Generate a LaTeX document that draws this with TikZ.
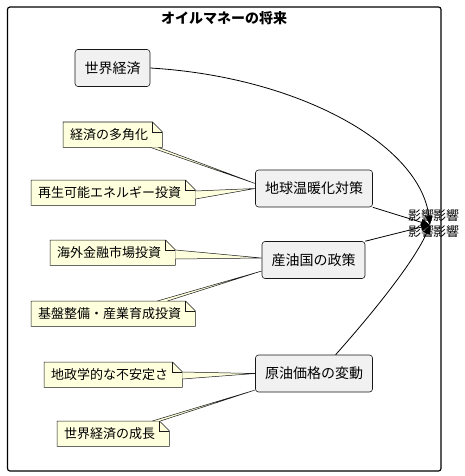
\documentclass[tikz,border=0pt]{standalone}
\usepackage{fontspec}
\setmainfont{Noto Sans CJK JP}
\usetikzlibrary{arrows.meta,calc}
\pgfdeclarelayer{paper}
\pgfdeclarelayer{notelayer}
\pgfsetlayers{paper,notelayer,main}
\definecolor{boxfill}{HTML}{F1F1F1}
\definecolor{notefill}{HTML}{FEFFDD}
\definecolor{edge}{HTML}{181818}
\tikzset{
  factor/.style={draw=edge,fill=boxfill,rounded corners=3pt,line width=.6pt,
    inner xsep=9.5pt,minimum height=37pt,font=\fontsize{14}{16}\selectfont},
  notetext/.style={anchor=north west,inner xsep=7pt,inner ysep=0pt,
    minimum height=25pt,font=\fontsize{13}{15}\selectfont},
  noteline/.style={draw=edge,fill=notefill,line width=.5pt},
  effect/.style={inner sep=0pt,font=\fontsize{13}{15}\selectfont},
}
% note outline with folded corner, behind the text
\newcommand\notebox[1]{%
  \begin{pgfonlayer}{notelayer}
  \draw[noteline] (#1.north west) -- ($(#1.north east)+(-3,0)$)
    -- ($(#1.north east)+(7,10)$) -- ($(#1.south east)+(7,0)$)
    -- (#1.south west) -- cycle;
  \draw[noteline,fill=none] ($(#1.north east)+(-3,0)$) |- ($(#1.north east)+(7,10)$);
  \end{pgfonlayer}}
% thin wedge from a note to its box
\newcommand\notelink[3]{%
  \begin{pgfonlayer}{notelayer}
  \fill[notefill] #1 -- #3 -- #2 -- cycle;
  \draw[edge,line width=.5pt] #1 -- #3 -- #2;
  \end{pgfonlayer}}
\begin{document}
\begin{tikzpicture}[x=1pt,y=-1pt,>={Triangle[length=9pt,width=7pt]}]
\begin{pgfonlayer}{paper}
\fill[white] (0,0) rectangle (464,476);
\end{pgfonlayer}
\useasboundingbox (0,0) rectangle (464,476);
\draw[line width=1.2pt,rounded corners=2.5pt] (7.5,7) rectangle (441,471);
\node[font=\bfseries\fontsize{14}{16}\selectfont] (title) at (224,18) {オイルマネーの将来};

% factors
\node[factor] (econ) at (112.5,68) {世界経済};
\node[factor] (warm) at (314,188.5) {地球温暖化対策};
\node[factor] (oil) at (313.5,260) {産油国の政策};
\node[factor] (price) at (314,373.5) {原油価格の変動};
\coordinate (fut) at (430,225);

% notes
\node[notetext] (nA) at (63,122) {経済の多角化};
\notebox{nA}
\notelink{($(nA.south east)+(-5,0)$)}{($(nA.south east)+(3,0)$)}{($(warm.west)+(0,-5)$)}
\node[notetext] (nB) at (31,180) {再生可能エネルギー投資};
\notebox{nB}
\notelink{($(nB.north east)+(7,11)$)}{($(nB.north east)+(7,19)$)}{(warm.west)}
\node[notetext] (nC) at (50,240) {海外金融市場投資};
\notebox{nC}
\notelink{($(nC.north east)+(7,10)$)}{($(nC.north east)+(7,19)$)}{($(oil.west)+(0,-2)$)}
\node[notetext] (nD) at (31,301) {基盤整備・産業育成投資};
\notebox{nD}
\notelink{($(nD.north east)+(-31,0)$)}{($(nD.north east)+(-21,0)$)}{($(oil.west)+(0,11)$)}
\node[notetext] (nE) at (44,362) {地政学的な不安定さ};
\notebox{nE}
\notelink{($(nE.north east)+(7,10)$)}{($(nE.north east)+(7,17)$)}{(price.west)}
\node[notetext] (nF) at (57,421) {世界経済の成長};
\notebox{nF}
\notelink{($(nF.north east)+(-10,0)$)}{($(nF.north east)+(-2,0)$)}{($(price.west)+(0,16.5)$)}

% influences
\draw[->,line width=.8pt] (econ.east) .. controls +(150,9) and +(-10,-80) .. (fut);
\draw[->,line width=.8pt] (warm.south east) -- (fut);
\draw[->,line width=.8pt] (oil.north east) -- (fut);
\draw[->,line width=.8pt] (price.41) .. controls +(40,-45) and +(-15,35) .. (fut);
\node[effect] (l1) at (421,216) {影響};
\node[effect] (l2) at (446,216) {影響};
\node[effect] (l3) at (421,232) {影響};
\node[effect] (l4) at (446,232) {影響};
\end{tikzpicture}
\end{document}
